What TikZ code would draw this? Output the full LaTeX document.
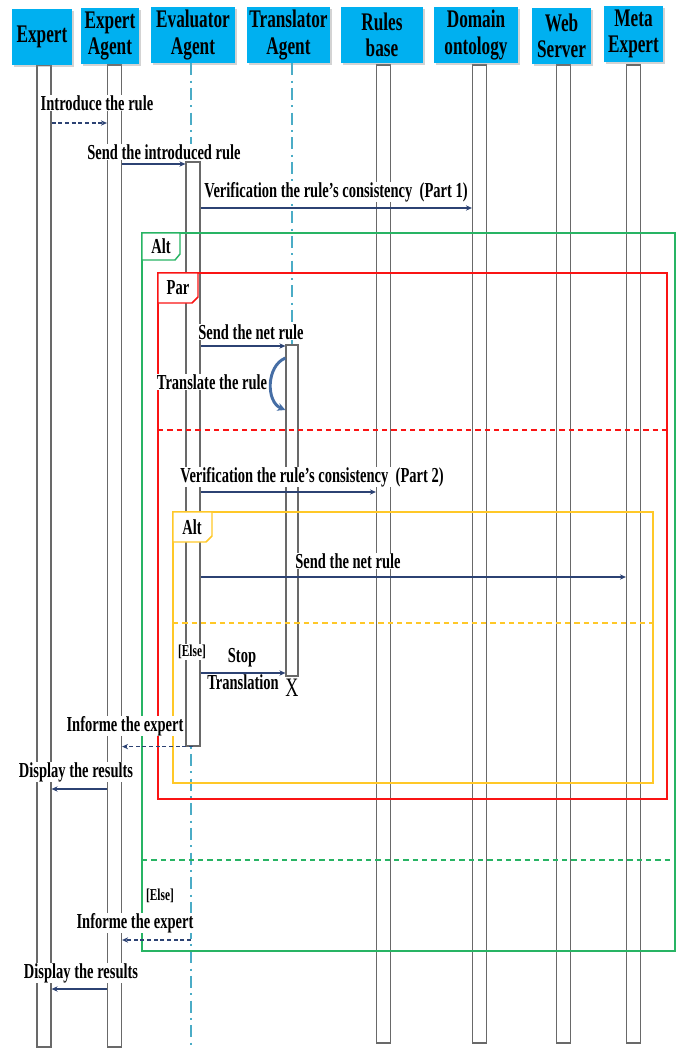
\documentclass[tikz,border=0pt]{standalone}
\usepackage{fontspec}
\setmainfont{Liberation Serif}[FakeStretch=0.68]
\usetikzlibrary{arrows.meta, shadows}
\definecolor{headcyan}{RGB}{0,176,240}
\definecolor{lifegray}{RGB}{105,105,105}
\definecolor{dashcyan}{RGB}{75,172,198}
\definecolor{msgnavy}{RGB}{44,66,115}
\definecolor{arcblue}{RGB}{70,110,165}
\definecolor{altgreen}{RGB}{40,180,100}
\definecolor{parred}{RGB}{250,20,20}
\definecolor{altyellow}{RGB}{255,200,40}

\begin{document}
\begin{tikzpicture}[
      x=0.75pt, y=-0.75pt,
      head/.style={
          fill=headcyan,
          minimum height=42pt,
          inner sep=1pt,
          align=center,
          font=\fontsize{19}{20}\selectfont\bfseries,
          drop shadow={shadow xshift=1.5pt, shadow yshift=-1.5pt, opacity=0.35}
        },
      lifebox/.style={draw=lifegray, line width=0.9pt, minimum width=10.5pt, inner sep=0pt},
      actbar/.style={draw=lifegray, fill=white, line width=0.9pt, inner sep=0pt},
      lifedash/.style={dashcyan, line width=1.5pt, dash pattern=on 9pt off 4pt on 1.5pt off 4pt},
      msg/.style={-{Stealth[length=4.5pt, width=4pt]}, msgnavy, line width=1.1pt},
      reply/.style={msg, dash pattern=on 3pt off 2pt},
      msglabel/.style={fill=white, inner sep=0.5pt, font=\fontsize{16}{17}\selectfont\bfseries},
      guard/.style={fill=white, inner sep=0.5pt, font=\fontsize{12.5}{13}\selectfont\bfseries},
      frame/.style={line width=1.1pt},
      framesep/.style={line width=1.1pt, dash pattern=on 4pt off 3pt},
      tablabel/.style={font=\fontsize{16}{17}\selectfont\bfseries, inner sep=0pt}
    ]
    \useasboundingbox (0,0) rectangle (678,1049);

    \node[lifebox, minimum height=736.5pt] (lExpert) at (44,556) {};
    \node[lifebox, minimum height=736.5pt] (lEAgent) at (114.5,556) {};
    \node[lifebox, minimum height=733.5pt] (lRules) at (383.5,554) {};
    \node[lifebox, minimum height=733.5pt] (lDomain) at (479.5,554) {};
    \node[lifebox, minimum height=733.5pt] (lWeb) at (563.5,554) {};
    \node[lifebox, minimum height=733.5pt] (lMeta) at (633.5,554) {};

    \node[head, minimum width=45pt] (expert) at (42,37) {Expert};
    \node[head, minimum width=43.5pt] (eagent) at (110,36) {Expert\\Agent};
    \node[head, minimum width=63pt] (evaluator) at (193,35) {Evaluator\\Agent};
    \node[head, minimum width=62.25pt] (translator) at (288.5,35) {Translator\\Agent};
    \node[head, minimum width=61.5pt] (rules) at (382,35) {Rules\\base};
    \node[head, minimum width=63pt] (ontology) at (476,35) {Domain\\ontology};
    \node[head, minimum width=44.25pt] (web) at (561.5,36) {Web\\Server};
    \node[head, minimum width=44.25pt] (meta) at (633.5,34) {Meta\\Expert};

    \coordinate (evalEnd) at (191,1049);
    \draw[lifedash] (evaluator.south -| evalEnd) -- (evalEnd);
    \node[actbar, minimum width=10.5pt, minimum height=438pt] (actEval) at (193,454) {};
    \node[actbar, minimum width=9pt, minimum height=248.25pt] (actTrans) at (292,510.5) {};
    \draw[lifedash] (translator.south -| actTrans.north) -- (actTrans.north);

    \draw[frame, altgreen] (142,233) rectangle (675,951);
    \draw[framesep, altgreen] (142,860) -- (675,860);
    \draw[frame, parred] (158,273) rectangle (667,799);
    \draw[framesep, parred] (158,430) -- (667,430);
    \draw[frame, altyellow] (173,512) rectangle (653,783);
    \draw[framesep, altyellow] (173,623) -- (653,623);

    \draw[frame, altgreen, fill=white] (142,233) -- (180,233) -- (180,254) -- (175,260) -- (142,260) -- cycle;
    \node[tablabel] (altOuter) at (161,246) {Alt};
    \draw[frame, parred, fill=white] (158,273) -- (198,273) -- (198,297) -- (192,303) -- (158,303) -- cycle;
    \node[tablabel] (parTab) at (178,288) {Par};
    \draw[frame, altyellow, fill=white] (173,512) -- (212,512) -- (212,536) -- (206,542) -- (173,542) -- cycle;
    \node[tablabel] (altInner) at (192,527) {Alt};

    \node[msglabel] (introduce) at (97,103) {Introduce the rule};
    \node[msglabel] (sendIntro) at (164,152) {Send the introduced rule};
    \node[msglabel] (verifOne) at (336,192) {Verification the rule’s consistency\ \ (Part 1)};
    \node[msglabel] (sendNetOne) at (251,332) {Send the net rule};
    \node[msglabel] (translate) at (212,382) {Translate the rule};
    \node[msglabel] (verifTwo) at (312,477) {Verification the rule’s consistency\ \ (Part 2)};
    \node[msglabel] (sendNetTwo) at (348,561) {Send the net rule};
    \node[guard] (elseInner) at (192,652) {[Else]};
    \node[msglabel] (stop) at (242,658) {Stop};
    \node[msglabel] (translation) at (243,682) {Translation};
    \node[font=\fontsize{20}{20}\selectfont, inner sep=0pt] (stopX) at (292,688) {X};
    \node[msglabel] (informOne) at (125,726) {Informe the expert};
    \node[msglabel] (displayOne) at (76,772) {Display the results};
    \node[guard] (elseOuter) at (160,896) {[Else]};
    \node[msglabel] (informTwo) at (135,923) {Informe the expert};
    \node[msglabel] (displayTwo) at (81,973) {Display the results};

    \draw[reply] (lExpert.east |- 0,123) -- (lEAgent.west |- 0,123);
    \draw[msg] (lEAgent.east |- 0,164) -- (actEval.west |- 0,164);
    \draw[msg] (actEval.east |- 0,208) -- (lDomain.west |- 0,208);
    \draw[msg] (actEval.east |- 0,346) -- (actTrans.west |- 0,346);
    \draw[arcblue, line width=2.2pt, -{Stealth[length=6pt, width=6pt]}]
      (actTrans.west |- 0,358) .. controls (266,366) and (266,402) .. (actTrans.west |- 0,410);
    \draw[msg] (actEval.east |- 0,492) -- (lRules.west |- 0,492);
    \draw[msg] (actEval.east |- 0,577) -- (lMeta.west |- 0,577);
    \draw[msg] (actEval.east |- 0,673) -- (actTrans.west |- 0,673);
    \draw[reply] (actEval.south) -- (lEAgent.east |- actEval.south);
    \draw[msg] (lEAgent.west |- 0,789) -- (lExpert.east |- 0,789);
    \draw[reply] (evalEnd |- 0,940) -- (lEAgent.east |- 0,940);
    \draw[msg] (lEAgent.west |- 0,989) -- (lExpert.east |- 0,989);
  \end{tikzpicture}
\end{document}
